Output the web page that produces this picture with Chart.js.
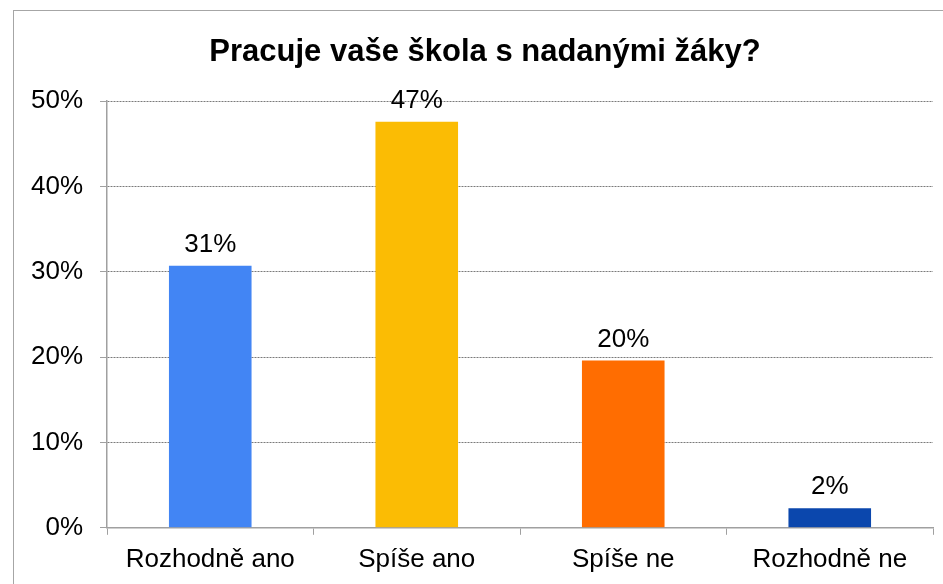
<!DOCTYPE html>
<html>
<head>
<meta charset="utf-8">
<script src="https://cdn.jsdelivr.net/npm/chart.js@4"></script>
<style>
  html, body { margin: 0; padding: 0; background: #fff; }
  #wrap { position: relative; width: 943px; height: 584px; overflow: hidden; }
  #frame { position: absolute; left: 13px; top: 10px; width: 980px; height: 620px; border: 1px solid #a6a6a6; box-sizing: border-box; }
  #c { position: absolute; left: 0; top: 0; }
</style>
</head>
<body>
<div id="wrap">
  <div id="frame"></div>
  <canvas id="c" width="943" height="584"></canvas>
</div>
<script>
// data
const categories = ['Rozhodně ano', 'Spíše ano', 'Spíše ne', 'Rozhodně ne'];
const values = [30.7, 47.6, 19.6, 2.3];
const valueLabels = ['31%', '47%', '20%', '2%'];
const barColors = ['#4285F4', '#FBBC04', '#FF6D01', '#0B47AD'];
const yTicks = [0, 10, 20, 30, 40, 50];

const fontFamily = '"Liberation Sans", Arial, sans-serif';

// labels above bars
const barLabels = {
  id: 'barLabels',
  afterDatasetsDraw(chart) {
    const ctx = chart.ctx;
    const meta = chart.getDatasetMeta(0);
    ctx.save();
    ctx.font = '26px ' + fontFamily;
    ctx.fillStyle = '#000';
    ctx.textAlign = 'center';
    ctx.textBaseline = 'alphabetic';
    meta.data.forEach((bar, i) => {
      ctx.fillText(valueLabels[i], bar.x, bar.y - 14);
    });
    ctx.restore();
  }
};

const ctx = document.getElementById('c').getContext('2d');
const chart = new Chart(ctx, {
  type: 'bar',
  data: {
    labels: categories,
    datasets: [{
      data: values,
      backgroundColor: barColors,
      borderWidth: 0,
      barPercentage: 0.4,
      categoryPercentage: 1
    }]
  },
  options: {
    responsive: false,
    animation: false,
    layout: { padding: { left: 37, right: 10, top: 0, bottom: 0 } },
    plugins: {
      legend: { display: false },
      tooltip: { enabled: false },
      title: {
        display: true,
        text: 'Pracuje vaše škola s nadanými žáky?',
        color: '#000',
        font: { family: fontFamily, size: 31, weight: 'bold', lineHeight: 1.2 },
        padding: { top: 34, bottom: 30 }
      }
    },
    scales: {
      x: {
        grid: {
          display: true,
          drawOnChartArea: false,
          offset: true,
          tickLength: 7,
          tickColor: '#a0a0a0',
          color: '#a0a0a0'
        },
        border: { color: '#a0a0a0', width: 1.5 },
        ticks: {
          color: '#000',
          padding: 9,
          font: { family: fontFamily, size: 26 }
        }
      },
      y: {
        min: 0,
        max: 50,
        afterFit(scale) {
          scale.width = 70;
          // let the tick labels run past the left edge of the narrow axis box
          scale._computeLabelArea = () => undefined;
        },
        afterBuildTicks(scale) { scale.ticks = yTicks.map(v => ({ value: v })); },
        grid: {
          color: '#7a7a7a',
          lineWidth: 1,
          tickLength: 7,
          tickColor: '#a0a0a0',
          tickBorderDash: []
        },
        border: { color: '#a0a0a0', width: 1.5, dash: [2, 1] },
        ticks: {
          color: '#000',
          padding: 17,
          font: { family: fontFamily, size: 26 },
          callback: v => v + '%'
        }
      }
    }
  },
  plugins: [barLabels]
});
</script>
</body>
</html>
